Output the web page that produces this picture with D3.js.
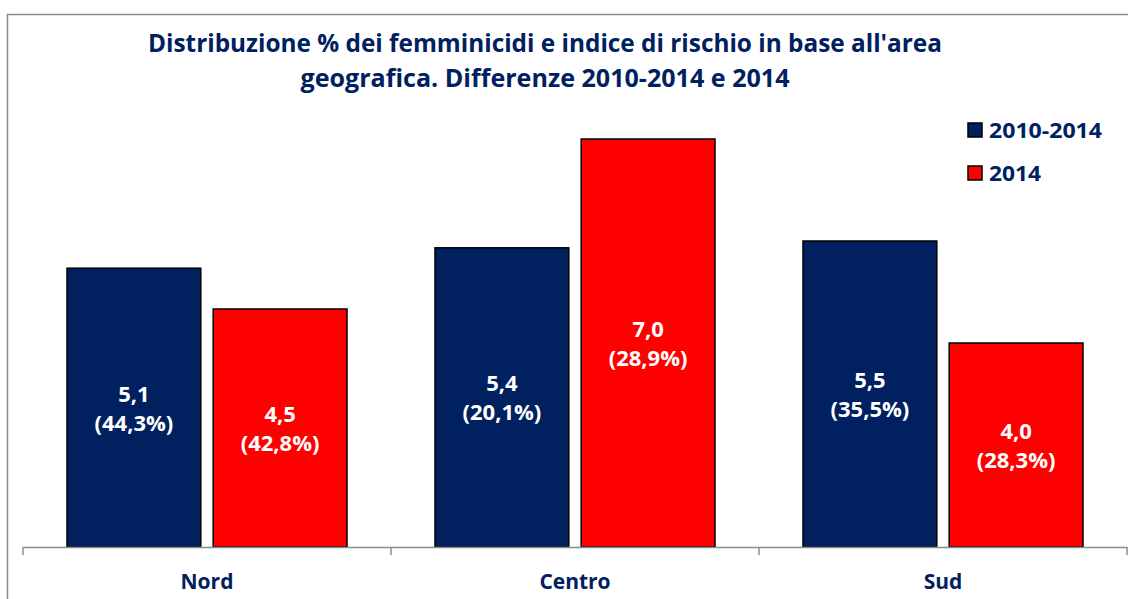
<!DOCTYPE html>
<html>
<head>
<meta charset="utf-8">
<script src="https://cdn.jsdelivr.net/npm/d3@7"></script>
<style>
  body { margin: 0; background: #fff; }
  text { font-family: "Open Sans", "DejaVu Sans", sans-serif; font-weight: bold; }
</style>
</head>
<body>
<svg id="chart" width="1128" height="599"></svg>
<script>
// data
var areas = ["Nord", "Centro", "Sud"];
var seriesNames = ["2010-2014", "2014"];
var rischio2010_2014 = [5.1, 5.4, 5.5];
var quota2010_2014 = ["44,3%", "20,1%", "35,5%"];
var rischio2014 = [4.5, 7.0, 4.0];
var quota2014 = ["42,8%", "28,9%", "28,3%"];
var titleLines = ["Distribuzione % dei femminicidi e indice di rischio in base all'area",
  "geografica. Differenze 2010-2014 e 2014"];

var colors = { "2010-2014": "#002060", "2014": "#FF0000" };
var navy = "#002060";

var svg = d3.select("#chart"),
  margin = { top: 71, right: 1, bottom: 52, left: 23 },
  width = +svg.attr("width") - margin.left - margin.right,
  height = +svg.attr("height") - margin.top - margin.bottom;

// outer frame
svg.append("rect")
  .attr("x", 7.5).attr("y", 14.5)
  .attr("width", 1140).attr("height", 620)
  .attr("fill", "none")
  .attr("stroke", "#8c8c8c")
  .attr("stroke-width", 1.5);

var g = svg.append("g").attr("transform", "translate(" + margin.left + "," + margin.top + ")");

var x0 = d3.scaleBand()
  .domain(areas)
  .range([0, width])
  .padding(0);

var x1 = d3.scaleBand()
  .domain(seriesNames)
  .range([44, x0.bandwidth() - 44])
  .paddingInner(0.085);

var y = d3.scaleLinear()
  .domain([1, 8])
  .range([height, 0]);

var rows = [];
areas.forEach(function (a, i) {
  rows.push({ area: a, serie: "2010-2014", v: rischio2010_2014[i], q: quota2010_2014[i] });
  rows.push({ area: a, serie: "2014", v: rischio2014[i], q: quota2014[i] });
});

// bars
g.selectAll(".bar")
  .data(rows)
  .enter().append("rect")
  .attr("class", "bar")
  .attr("x", function (d) { return x0(d.area) + x1(d.serie); })
  .attr("y", function (d) { return y(d.v); })
  .attr("width", x1.bandwidth())
  .attr("height", function (d) { return height - y(d.v); })
  .attr("fill", function (d) { return colors[d.serie]; })
  .attr("stroke", "#000")
  .attr("stroke-width", 1.5);

// value labels
var lab = g.selectAll(".lab")
  .data(rows)
  .enter().append("text")
  .attr("class", "lab")
  .attr("text-anchor", "middle")
  .attr("fill", "#fff")
  .style("font-size", "22px")
  .attr("transform", function (d) {
    var cx = x0(d.area) + x1(d.serie) + x1.bandwidth() / 2;
    var cy = (y(d.v) + height) / 2;
    return "translate(" + cx + "," + cy + ")";
  });
lab.append("tspan").attr("x", 0).attr("y", -6).text(function (d) { return d3.format(".1f")(d.v).replace(".", ","); });
lab.append("tspan").attr("x", 0).attr("y", 23).text(function (d) { return "(" + d.q + ")"; });

// x axis
var axis = g.append("g")
  .attr("transform", "translate(0," + height + ")")
  .call(d3.axisBottom(x0).tickSize(0).tickSizeOuter(0).tickPadding(27));
axis.select(".domain").attr("stroke", "#8c8c8c").attr("stroke-width", 1.5);
axis.selectAll(".tick text")
  .attr("fill", navy)
  .style("font-size", "21px")
  .style("font-family", "'Open Sans', sans-serif")
  .style("font-weight", "bold");

// category separators
var bounds = areas.map(function (a) { return x0(a); }).concat([width]);
axis.selectAll(".sep")
  .data(bounds)
  .enter().append("line")
  .attr("class", "sep")
  .attr("x1", function (d) { return d; })
  .attr("x2", function (d) { return d; })
  .attr("y1", 0).attr("y2", 8)
  .attr("stroke", "#8c8c8c")
  .attr("stroke-width", 1.5);

// title
svg.selectAll(".title")
  .data(titleLines)
  .enter().append("text")
  .attr("class", "title")
  .attr("x", 545)
  .attr("y", function (d, i) { return 52 + i * 35; })
  .attr("text-anchor", "middle")
  .attr("fill", navy)
  .style("font-size", "25px")
  .attr("textLength", function (d, i) { return i === 0 ? 794 : 489; })
  .attr("lengthAdjust", "spacingAndGlyphs")
  .text(function (d) { return d; });

// legend
var leg = svg.selectAll(".leg")
  .data(seriesNames)
  .enter().append("g")
  .attr("class", "leg")
  .attr("transform", function (d, i) { return "translate(968," + (123 + i * 43) + ")"; });
leg.append("rect")
  .attr("width", 14).attr("height", 14)
  .attr("fill", function (d) { return colors[d]; })
  .attr("stroke", "#000")
  .attr("stroke-width", 1.5);
leg.append("text")
  .attr("x", 21)
  .attr("y", 15)
  .attr("fill", navy)
  .style("font-size", "22px")
  .attr("textLength", function (d, i) { return i === 0 ? 113 : 52; })
  .attr("lengthAdjust", "spacingAndGlyphs")
  .text(function (d) { return d; });
</script>
</body>
</html>
